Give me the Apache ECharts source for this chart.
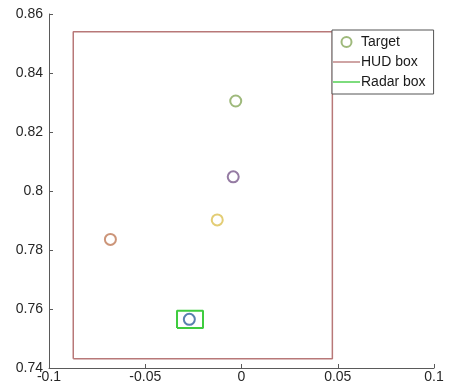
<!DOCTYPE html>
<html><head><meta charset="utf-8">
<script src="https://cdn.jsdelivr.net/npm/echarts@6/dist/echarts.min.js"></script>
<style>html,body{margin:0;padding:0;background:#fff}#c{width:449px;height:390px}</style>
</head><body><div id="c"></div>
<script>
// Data
const targetX = [-0.003, -0.0043, -0.0126, -0.0681, -0.0271];
const targetY = [0.8305, 0.8048, 0.7902, 0.7836, 0.7565];
const targetColors = ['#86a85a', '#7a5a8c', '#dcc052', '#bf7a58', '#2f5f9a'];
const hudX = [-0.0874, 0.0472, 0.0472, -0.0874, -0.0874];
const hudY = [0.7431, 0.7431, 0.854, 0.854, 0.7431];
const radarX = [-0.0335, -0.02, -0.02, -0.0335, -0.0335];
const radarY = [0.7536, 0.7536, 0.7594, 0.7594, 0.7536];
const xTickLabels = ['-0.1', '-0.05', '0', '0.05', '0.1'];
const yTickLabels = ['0.74', '0.76', '0.78', '0.8', '0.82', '0.84', '0.86'];

const chart = echarts.init(document.getElementById('c'), null, {renderer: 'canvas'});
const font = 'Liberation Sans, Arial, sans-serif';
const axisCol = '#5a5a5a';
const zip = (xs, ys) => xs.map((x, i) => [x, ys[i]]);
const lineIcon = 'path://M0,0L40,0L40,2L0,2Z';

chart.setOption({
  animation: false,
  backgroundColor: '#fff',
  grid: {left: 49, right: 15, top: 14, bottom: 22, containLabel: false},
  xAxis: {
    type: 'value', min: -0.1, max: 0.1, interval: 0.05,
    axisLine: {show: true, onZero: false, lineStyle: {color: axisCol, width: 1}},
    axisTick: {show: true, inside: true, length: 4, lineStyle: {color: axisCol}},
    splitLine: {show: false},
    axisLabel: {color: '#262626', fontFamily: font, fontSize: 14, margin: 2,
      formatter: (v) => xTickLabels[Math.round((v + 0.1) / 0.05)]}
  },
  yAxis: {
    type: 'value', min: 0.74, max: 0.86, interval: 0.02,
    axisLine: {show: true, onZero: false, lineStyle: {color: axisCol, width: 1}},
    axisTick: {show: true, inside: true, length: 4, lineStyle: {color: axisCol}},
    splitLine: {show: false},
    axisLabel: {color: '#262626', fontFamily: font, fontSize: 14, margin: 6,
      formatter: (v) => yTickLabels[Math.round((v - 0.74) / 0.02)]}
  },
  legend: {
    orient: 'vertical', left: 332, top: 30,
    backgroundColor: '#fff', borderColor: '#555', borderWidth: 1,
    padding: [5, 8, 5, 1], itemGap: 6, itemWidth: 27, itemHeight: 10,
    textStyle: {fontFamily: font, fontSize: 14, color: '#1a1a1a', padding: [0, 0, 0, -4]},
    data: [
      {name: 'Target', icon: 'circle', itemStyle: {color: '#fff', borderColor: '#86a85a', borderWidth: 2}},
      {name: 'HUD box', icon: lineIcon, itemStyle: {color: '#b87878', borderWidth: 0}},
      {name: 'Radar box', icon: lineIcon, itemStyle: {color: '#3fcc3f', borderWidth: 0}}
    ]
  },
  series: [
    {
      name: 'Target', type: 'scatter', symbol: 'emptyCircle', symbolSize: 11, z: 5,
      itemStyle: {color: '#86a85a', borderWidth: 2},
      data: zip(targetX, targetY).map((p, i) => ({value: p, itemStyle: {color: targetColors[i], borderColor: targetColors[i]}}))
    },
    {
      name: 'HUD box', type: 'line', symbol: 'none', showSymbol: false,
      lineStyle: {color: '#b87878', width: 1.5}, itemStyle: {color: '#b87878'},
      data: zip(hudX, hudY)
    },
    {
      name: 'Radar box', type: 'line', symbol: 'none', showSymbol: false,
      lineStyle: {color: '#3fcc3f', width: 2}, itemStyle: {color: '#3fcc3f'},
      data: zip(radarX, radarY)
    }
  ]
});
</script></body></html>
